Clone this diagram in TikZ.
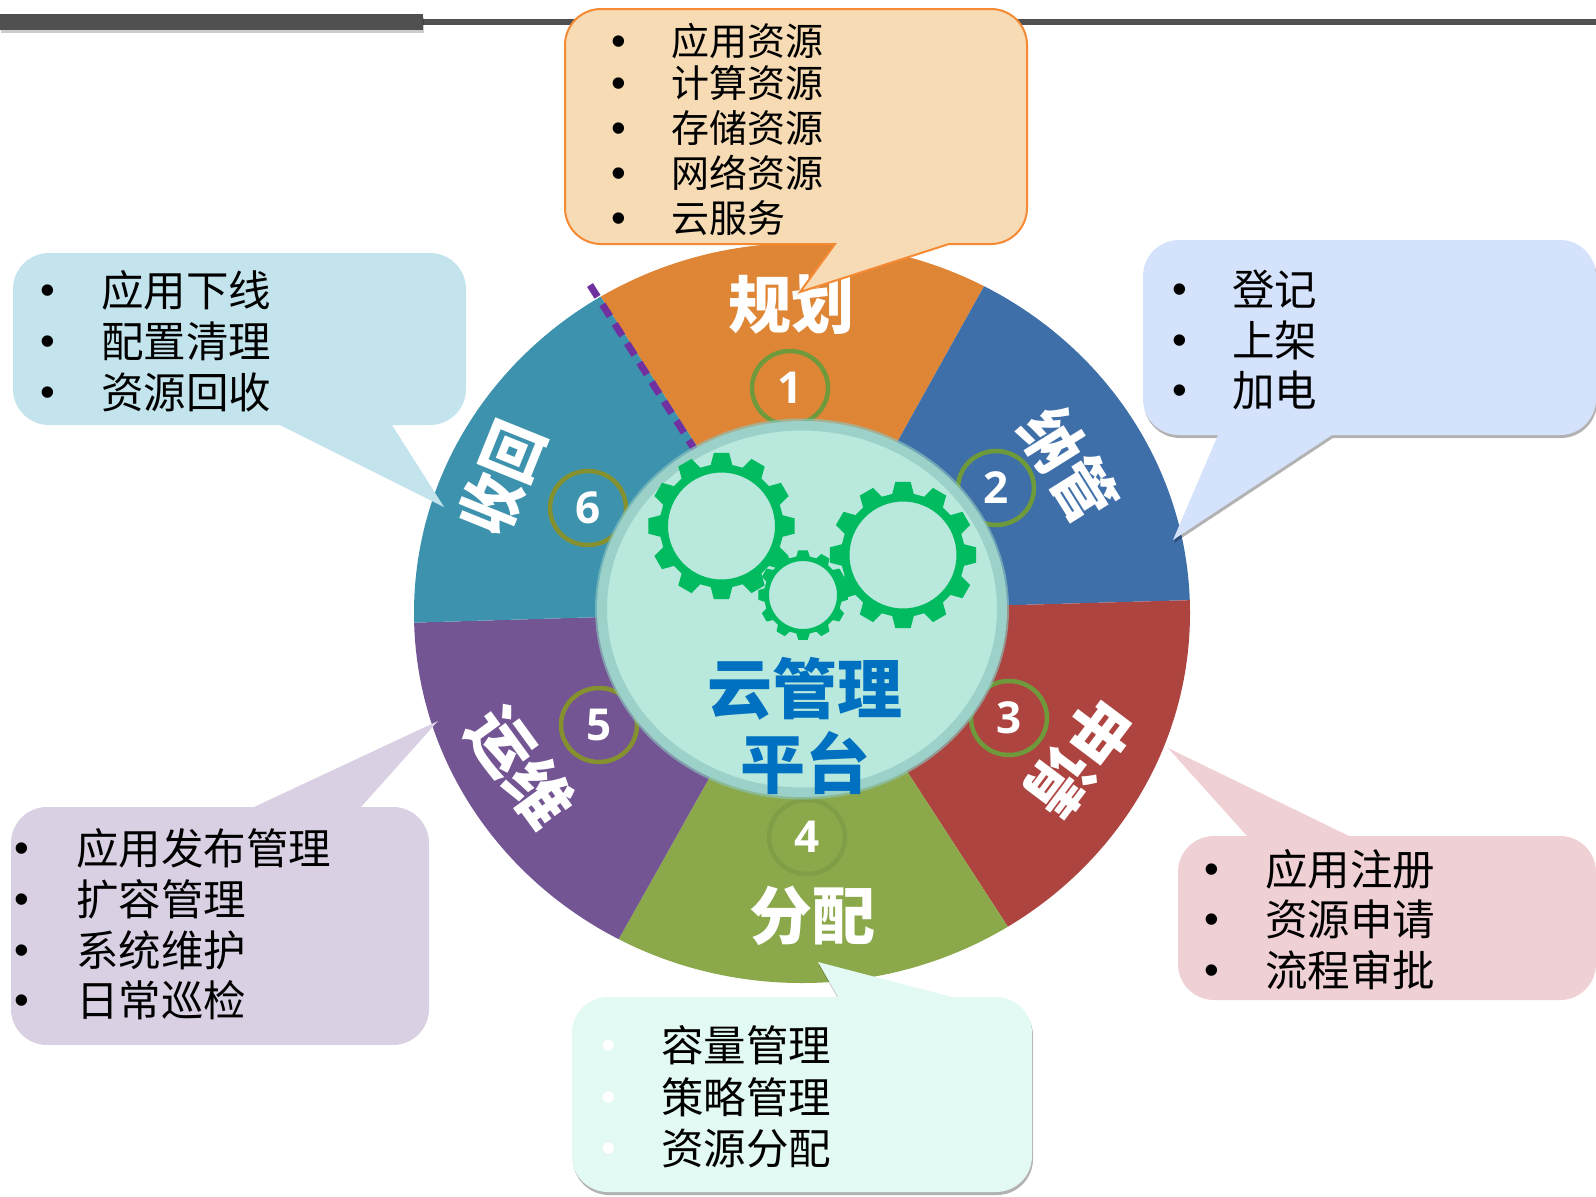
\documentclass[tikz,border=0pt]{standalone}
\usepackage{fontspec}
\setmainfont{Noto Sans CJK SC}
\newfontfamily\digitfont{Open Sans}
\newfontfamily\dotfont{Liberation Sans}
\newfontfamily\midfont{Noto Sans CJK SC}[UprightFont=* Medium]
\usetikzlibrary{positioning, calc, shadows}
\definecolor{cplan}{HTML}{DF8536}
\definecolor{cstore}{HTML}{3F6FA8}
\definecolor{capply}{HTML}{AD4440}
\definecolor{cassign}{HTML}{8BA84B}
\definecolor{cops}{HTML}{735593}
\definecolor{cback}{HTML}{3D93AE}
\definecolor{cdisc}{HTML}{B9E8DC}
\definecolor{cring}{HTML}{8CC5BE}
\definecolor{cgear}{HTML}{00BB5F}
\definecolor{ctitle}{HTML}{0070C0}
\definecolor{cbar}{HTML}{505050}
\definecolor{cdash}{HTML}{7030A0}
\definecolor{rgreen}{HTML}{6F9A3C}
\definecolor{rolive}{HTML}{85902F}
\definecolor{rfaint}{HTML}{7F9E45}
\definecolor{bplan}{HTML}{F6DBB4}
\definecolor{eplan}{HTML}{F58A35}
\definecolor{bback}{HTML}{C3E4EC}
\definecolor{bstore}{HTML}{D5E2FC}
\definecolor{bapply}{HTML}{EFD0D4}
\definecolor{bops}{HTML}{D9D0E4}
\definecolor{bassign}{HTML}{E3F9F3}
\tikzset{
	bubble/.style={rounded corners=36},
	shade bubble/.style={bubble, drop shadow={shadow xshift=1pt, shadow yshift=-3pt, opacity=.3, fill=black}},
	rowtext/.style={anchor=west, inner sep=0pt, font=\fontsize{42.5}{42.5}\selectfont},
	rowdot/.style={inner sep=0pt, yshift=-5pt, font=\dotfont\fontsize{42}{42}\selectfont},
	sector/.style={inner sep=0pt, text=white, font=\bfseries\fontsize{63}{63}\selectfont},
	turned/.style={inner sep=0pt, text=white, font=\bfseries\fontsize{64}{64}\selectfont},
	digit/.style={inner sep=0pt, text=white, font=\digitfont\bfseries\fontsize{44}{44}\selectfont},
	titletext/.style={inner sep=0pt, text=ctitle, font=\bfseries\fontsize{65}{65}\selectfont},
}
\newcommand{\gearshape}[5]{%
	\begin{scope}[shift={(#1,#2)}]
		\fill[cgear, even odd rule] (0:#5) arc[start angle=0, end angle=360, radius=#5]
			(-10:#4) \foreach \t in {0,30,...,330} { -- (\t-10:#4) -- (\t-6:#3) -- (\t+6:#3) -- (\t+10:#4) } -- cycle;
	\end{scope}
}
\begin{document}
\begin{tikzpicture}[x=1pt, y=-1pt]
	\useasboundingbox (0,0) rectangle (1596,1197);
	% top bar
	\fill[cbar] (0,19) rectangle (1596,25);
	\fill[cbar, drop shadow={shadow xshift=1pt, shadow yshift=-3pt, opacity=.2, fill=black}] (0,14) rectangle (423,30);
	% wheel
	\coordinate (hub) at (803,611);
	\coordinate (tl) at (559,232);
	\coordinate (tr) at (1021,220);
	\coordinate (rr) at (1267,598);
	\coordinate (lr) at (1047,987);
	\coordinate (bl) at (585,999);
	\coordinate (ll) at (335,625);
	\begin{scope}
		\clip (802,613) ellipse [x radius=388, y radius=370];
		\foreach \from/\to/\col in {tl/tr/cplan, tr/rr/cstore, rr/lr/capply, lr/bl/cassign, bl/ll/cops, ll/tl/cback}
			\fill[\col] (hub) -- (\from) -- (\to) -- cycle;
	\end{scope}
	\draw[line width=7, color=cdash, dash pattern=on 14pt off 9pt] (590,285) -- (700,458);
	% numbers
	\foreach \x/\y/\num/\col in {790/388/1/rgreen, 996/488/2/rgreen, 1009/718/3/rgreen, 807/837/4/rfaint, 599/725/5/rolive, 588/508/6/rolive} {
		\draw[line width=4.5, color=\col] (\x,\y) ellipse [x radius=38, y radius=37];
		\node[digit] (num\num) at (\x,\y) {\num};
	}
	% sector names
	\node[sector] (plan) at (791,305) {规划};
	\node[turned, rotate=-58, xscale=.92] (store) at (1069,464) {纳管};
	\node[turned, rotate=-127] (apply) at (1080,757) {申请};
	\node[sector] (assign) at (812,916) {分配};
	\node[turned, rotate=-54] (ops) at (521,767) {运维};
	\node[turned, rotate=68, xscale=.9] (back) at (502,478) {收回};
	% centre
	\fill[cdisc] (802,609) ellipse [x radius=205, y radius=188];
	\draw[line width=12, color=cring, opacity=.65] (802,609) ellipse [x radius=201, y radius=184.5];
	\gearshape{721.5}{526}{73.5}{62}{53.5}
	\gearshape{903}{555}{73.5}{62}{53.5}
	\gearshape{803}{595}{45}{39}{34}
	\node[titletext] (title) at (805,689) {云管理};
	\node[titletext] (subtitle) at (805,763) {平台};
	% bubbles
	\draw[bubble, fill=bplan, draw=eplan, line width=2] (565,9) -- (1027,9) -- (1027,244) [sharp corners] -- (949,244) -- (800,292) -- (835,244) [bubble] -- (565,244) -- cycle;
	\fill[bubble, fill=bback] (13,253) -- (466,253) -- (466,425) [sharp corners] -- (392,425) -- (444,507) -- (280,425) [bubble] -- (13,425) -- cycle;
	\fill[shade bubble, fill=bstore] (1143,240) -- (1596,240) -- (1596,435) [sharp corners] -- (1332,435) -- (1173,540) -- (1218,435) [bubble] -- (1143,435) -- cycle;
	\fill[bubble, fill=bapply] (1596,836) -- (1596,1000) -- (1178,1000) -- (1178,836) [sharp corners] -- (1247,836) -- (1168,748) -- (1349,836) [bubble] -- cycle;
	\fill[bubble, fill=bops] (11,807) [sharp corners] -- (254,807) -- (438,721) -- (361,807) [bubble] -- (429,807) -- (429,1045) -- (11,1045) -- cycle;
	\fill[shade bubble, fill=bassign] (572,997) [sharp corners] -- (838,997) -- (818,962) -- (952,997) [bubble] -- (1032,997) -- (1032,1192) -- (572,1192) -- cycle;
	% bubble rows
	\foreach \y/\txt [count=\i] in {41/应用资源, 83/计算资源, 128/存储资源, 173/网络资源, 218/云服务} {
		\node[rowdot] (plandot\i) at (619,\y) {•};
		\node[rowtext, font=\fontsize{38}{38}\selectfont, anchor=west] (planrow\i) at (671,\y) {\txt};
	}
	\foreach \y/\txt [count=\i] in {290/应用下线, 341/配置清理, 392/资源回收} {
		\node[rowdot] (backdot\i) at (48,\y) {•};
		\node[rowtext] (backrow\i) at (101,\y) {\txt};
	}
	\foreach \y/\txt [count=\i] in {289/登记, 340/上架, 390/加电} {
		\node[rowdot] (storedot\i) at (1180,\y) {•};
		\node[rowtext] (storerow\i) at (1232,\y) {\txt};
	}
	\foreach \y/\txt [count=\i] in {869/应用注册, 919/资源申请, 970/流程审批} {
		\node[rowdot] (applydot\i) at (1212,\y) {•};
		\node[rowtext] (applyrow\i) at (1265,\y) {\txt};
	}
	\foreach \y/\txt [count=\i] in {848/应用发布管理, 899/扩容管理, 950/系统维护, 1000/日常巡检} {
		\node[rowdot] (opsdot\i) at (22,\y) {•};
		\node[rowtext] (opsrow\i) at (76,\y) {\txt};
	}
	\foreach \y/\txt [count=\i] in {1045/容量管理, 1097/策略管理, 1148/资源分配} {
		\node[rowdot, text=white] (assigndot\i) at (609,\y) {•};
		\node[rowtext] (assignrow\i) at (661,\y) {\txt};
	}
\end{tikzpicture}
\end{document}
